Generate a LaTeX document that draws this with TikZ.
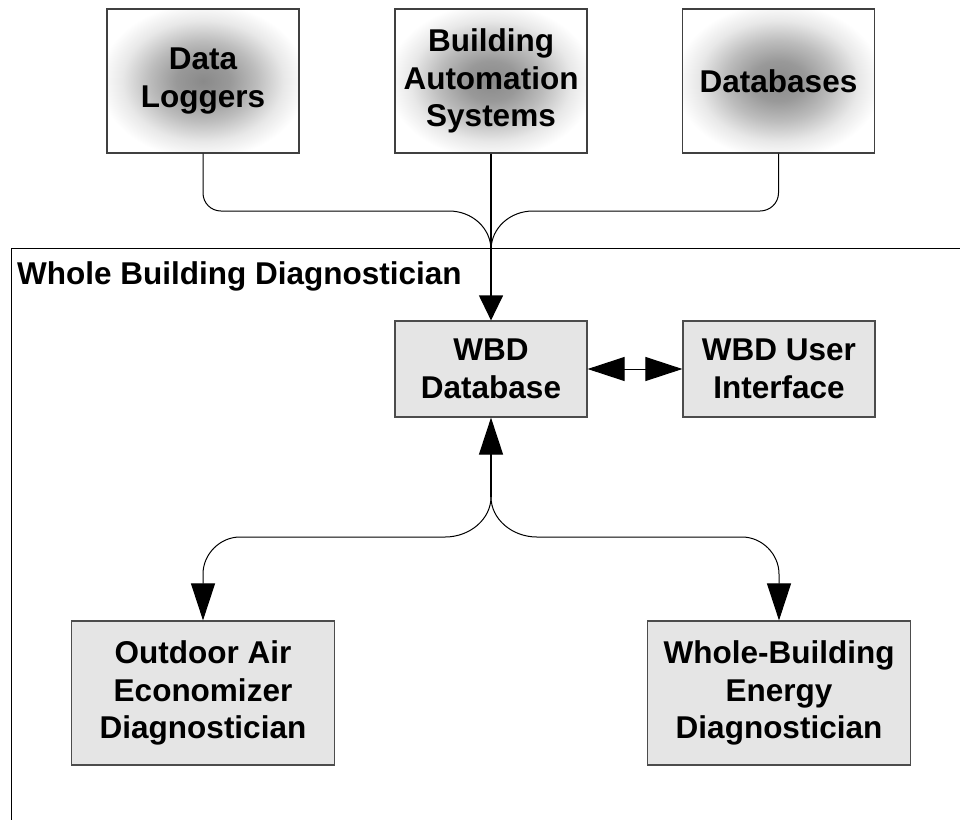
\documentclass[tikz,border=0pt]{standalone}
\usepackage{fontspec}
\setmainfont{Liberation Sans}
\usetikzlibrary{arrows.meta}
\pgfdeclareradialshading{glow}{\pgfpoint{0bp}{0bp}}{color(0bp)=(black!46); color(7bp)=(black!40); color(14bp)=(black!26); color(21bp)=(black!9); color(27bp)=(white); color(50bp)=(white)}
\begin{document}
\begin{tikzpicture}[x=1pt,y=-1pt]
\tikzset{
  every node/.style={font=\bfseries\fontsize{31.5}{37.5}\selectfont, align=center},
  srcbox/.style={draw=black!75, line width=1.2pt, shade, shading=glow, minimum width=192pt, minimum height=144pt, inner sep=0pt},
  wbdbox/.style={draw=black!70, line width=1.2pt, fill=black!10, inner sep=0pt},
  conn/.style={line width=1pt, black},
  tipshort/.style={-{Triangle[length=25pt,width=24pt]}},
  tiplong/.style={-{Triangle[length=37pt,width=24pt]}},
  tipboth/.style={{Triangle[length=37pt,width=24pt]}-{Triangle[length=37pt,width=24pt]}},
}
\useasboundingbox (0,0) rectangle (960,820);

% frame
\draw[line width=1pt] (960,248) -- (11,248) -- (11,820);
\node[anchor=base west, inner sep=0pt] (title) at (17,284) {Whole Building Diagnostician};

% source boxes
\node[srcbox] (dl) at (203,81) {Data\\Loggers};
\node[srcbox] (bas) at (491,81) {Building\\Automation\\Systems};
\node[srcbox] (db) at (778.5,81) {Databases};

% WBD boxes
\node[wbdbox, minimum width=192pt, minimum height=96pt] (wbd) at (491,369) {WBD\\Database};
\node[wbdbox, minimum width=192pt, minimum height=96pt] (ui) at (779,369) {WBD User\\Interface};
\node[wbdbox, minimum width=263pt, minimum height=144pt] (oa) at (203,693) {Outdoor Air\\Economizer\\Diagnostician};
\node[wbdbox, minimum width=263pt, minimum height=144pt] (wbe) at (779,693) {Whole-Building\\Energy\\Diagnostician};

% junctions
\coordinate (jn) at (491,250);
\coordinate (jd) at (491,497);

% top connectors
\draw[conn] (dl.south) -- (203,193) .. controls (203,203) and (211,211) .. (221,211)
  -- (449,211) .. controls (472,211) and (491,228) .. (jn);
\draw[conn] (db.south) -- (778.5,193) .. controls (778.5,203) and (770,211) .. (760,211)
  -- (533,211) .. controls (510,211) and (491,228) .. (jn);
\draw[conn, line width=1.2pt, tipshort] (bas.south) -- (wbd.north);

% WBD Database <-> UI
\draw[conn, tipboth] (wbd.east) -- (ui.west);

% lower connectors
\draw[conn, line width=1.2pt, tiplong] (jd) -- (wbd.south);
\draw[conn, tiplong] (jd) .. controls (491,519) and (470,537) .. (445,537)
  -- (240,537) .. controls (220,537) and (203,554) .. (203,574) -- (oa.north);
\draw[conn, tiplong] (jd) .. controls (491,519) and (512,537) .. (537,537)
  -- (742,537) .. controls (762,537) and (779,554) .. (779,574) -- (wbe.north);
\end{tikzpicture}
\end{document}
